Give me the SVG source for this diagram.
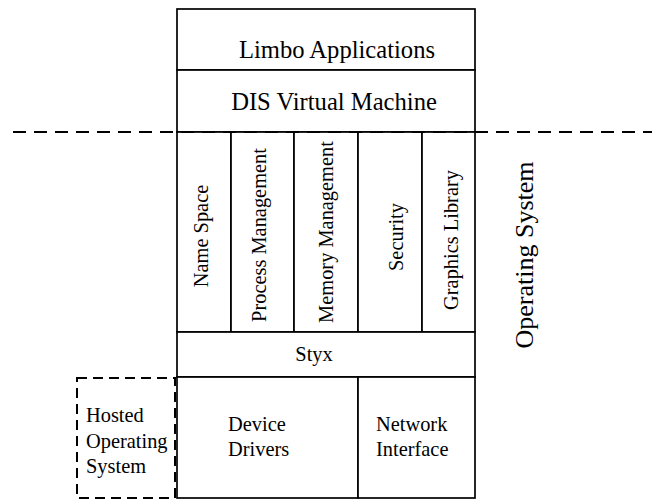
<svg xmlns="http://www.w3.org/2000/svg" width="652" height="500" viewBox="0 0 652 500">
<style>
.box{fill:#fff;stroke:#000;stroke-width:1.7}
.dash{fill:none;stroke:#000;stroke-width:2;stroke-dasharray:13 8}
.dbox{fill:none;stroke:#000;stroke-width:2;stroke-dasharray:10 6}
text{font-family:"Liberation Serif","Times New Roman",serif;fill:#000}
.big{font-size:24.6px}
.mid{font-size:20.4px}
</style>
<rect x="0" y="0" width="652" height="500" fill="#fff"/>
<g id="limbo-applications">
<rect class="box" x="177" y="9" width="298" height="61"/>
<text class="big" x="337" y="58" text-anchor="middle" font-size="25">Limbo Applications</text>
</g>
<g id="dis-vm">
<rect class="box" x="177" y="70" width="298" height="62"/>
<text class="big" x="334" y="110" text-anchor="middle">DIS Virtual Machine</text>
</g>
<g id="name-space">
<rect class="box" x="177" y="132" width="54" height="200"/>
<text class="mid" transform="translate(208,236) rotate(-90)" text-anchor="middle">Name Space</text>
</g>
<g id="process-management">
<rect class="box" x="231" y="132" width="63" height="200"/>
<text class="mid" transform="translate(266,235) rotate(-90)" text-anchor="middle">Process Management</text>
</g>
<g id="memory-management">
<rect class="box" x="294" y="132" width="64" height="200"/>
<text class="mid" transform="translate(333,232) rotate(-90)" text-anchor="middle">Memory Management</text>
</g>
<g id="security">
<rect class="box" x="358" y="132" width="64" height="200"/>
<text class="mid" transform="translate(403,237) rotate(-90)" text-anchor="middle">Security</text>
</g>
<g id="graphics-library">
<rect class="box" x="422" y="132" width="53" height="200"/>
<text class="mid" transform="translate(458,240) rotate(-90)" text-anchor="middle">Graphics Library</text>
</g>
<g id="styx">
<rect class="box" x="177" y="332" width="298" height="45"/>
<text class="mid" x="314" y="361" text-anchor="middle">Styx</text>
</g>
<g id="device-drivers">
<rect class="box" x="177" y="377" width="181" height="121"/>
<text class="mid" x="228" y="431">Device</text>
<text class="mid" x="228" y="456">Drivers</text>
</g>
<g id="network-interface">
<rect class="box" x="358" y="377" width="117" height="121"/>
<text class="mid" x="376" y="431">Network</text>
<text class="mid" x="376" y="456">Interface</text>
</g>
<g id="hosted-os">
<rect class="dbox" x="77" y="378" width="98" height="120"/>
<text class="mid" x="86" y="422">Hosted</text>
<text class="mid" x="86" y="448">Operating</text>
<text class="mid" x="86" y="473">System</text>
</g>
<g id="operating-system-label">
<text transform="translate(533,255) rotate(-90)" text-anchor="middle" font-size="26">Operating System</text>
</g>
<g id="connectors">
<line class="dash" x1="13" y1="132" x2="652" y2="132"/>
</g>
</svg>
